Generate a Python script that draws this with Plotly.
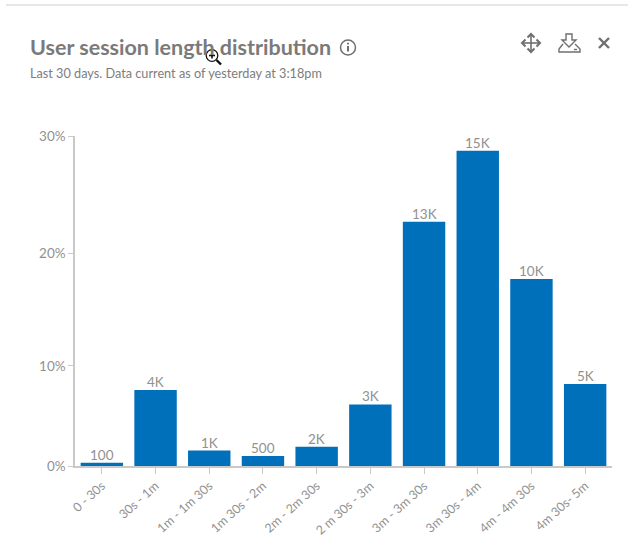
import plotly.graph_objects as go

# Session-length buckets and their share of sessions
buckets = ["0 - 30s", "30s - 1m", "1m - 1m 30s", "1m 30s - 2m", "2m - 2m 30s",
           "2 m 30s - 3m", "3m - 3m 30s", "3m 30s - 4m", "4m - 4m 30s", "4m 30s- 5m"]
share_pct = [0.3, 6.9, 1.4, 0.9, 1.75, 5.6, 22.2, 28.65, 17.0, 7.45]
count_labels = ["100", "4K", "1K", "500", "2K", "3K", "13K", "15K", "10K", "5K"]

# The percent ticks on this chart are unevenly spaced
y_tick_text = ["0%", "10%", "20%", "30%"]
y_tick_vals = [0, 9.1, 19.3, 30]

WIDTH, HEIGHT = 628, 537
LEFT, RIGHT, TOP, BOTTOM = 75, 16, 136, 71
WIDTH_PLOT = WIDTH - LEFT - RIGHT
HEIGHT_PLOT = HEIGHT - TOP - BOTTOM
GREY_TEXT = "#919191"
AXIS_GREY = "#c9c9c9"
ICON_GREY = "#6f6f6f"


def px(x):
    return (x - LEFT) / WIDTH_PLOT


def py(y):
    return (HEIGHT - BOTTOM - y) / HEIGHT_PLOT


def path(points, close=False):
    """SVG path in paper coordinates from page-pixel points."""
    d = "M" + " L".join(f"{px(x):.5f},{py(y):.5f}" for x, y in points)
    return d + (" Z" if close else "")


def line_shape(points, color=ICON_GREY, width=1.6, close=False, fill=None):
    return dict(type="path", xref="paper", yref="paper", path=path(points, close),
                line=dict(color=color, width=width),
                fillcolor=fill if fill else "rgba(0,0,0,0)", layer="above")


def circle_shape(cx, cy, r, color=ICON_GREY, width=1.6, fill=None):
    return dict(type="circle", xref="paper", yref="paper",
                x0=px(cx - r), x1=px(cx + r), y0=py(cy + r), y1=py(cy - r),
                line=dict(color=color, width=width),
                fillcolor=fill if fill else "rgba(0,0,0,0)", layer="above")


shapes = [
    # Rule across the top of the card
    line_shape([(6, 5), (628, 5)], color="#cfcfcf", width=1.2),
    # Info icon beside the title
    circle_shape(348, 47.5, 7.5, width=1.5),
    line_shape([(348, 46), (348, 51.5)], width=2),
    line_shape([(348, 42.8), (348, 44.4)], width=2),
    # Move icon
    line_shape([(522, 43), (540, 43)]),
    line_shape([(531, 34), (531, 52)]),
    line_shape([(525.5, 39.5), (522, 43), (525.5, 46.5)], width=2),
    line_shape([(536.5, 39.5), (540, 43), (536.5, 46.5)], width=2),
    line_shape([(527.5, 37.5), (531, 34), (534.5, 37.5)], width=2),
    line_shape([(527.5, 48.5), (531, 52), (534.5, 48.5)], width=2),
    # Download-to-tray icon
    line_shape([(566, 34), (572, 34), (572, 40), (576, 40), (569, 47), (562, 40), (566, 40)],
               close=True, width=1.4),
    line_shape([(563, 44), (559, 49), (559, 52), (580, 52), (580, 49), (575, 44)], width=1.4),
    line_shape([(574, 49.5), (577, 49.5)], width=1.4),
    # Close icon
    line_shape([(599, 38), (609, 48)], width=2.4),
    line_shape([(609, 38), (599, 48)], width=2.4),
    # Magnifier pointer sitting over the title
    circle_shape(212, 55.5, 5.8, color="#111111", width=1.3, fill="#ffffff"),
    line_shape([(209, 55.5), (215, 55.5)], color="#111111", width=1.6),
    line_shape([(212, 52.5), (212, 58.5)], color="#111111", width=1.6),
    line_shape([(216.5, 60), (221, 64.5)], color="#111111", width=2.4),
]

annotations = [
    dict(text="<b>User session length distribution</b>", x=px(29), y=py(47), xref="paper", yref="paper",
         xanchor="left", yanchor="middle", showarrow=False, xshift=-1,
         font=dict(family="Lato", size=21.5, color="#7a7a7a")),
    dict(text="Last 30 days. Data current as of yesterday at 3:18pm", x=px(29), y=py(73),
         xref="paper", yref="paper", xanchor="left", yanchor="middle", showarrow=False, xshift=-1,
         font=dict(family="Lato", size=12.7, color="#7d7d7d")),
]

# Count labels sit tight against the bar tops
for bucket, share, label in zip(buckets, share_pct, count_labels):
    annotations.append(dict(
        text=label, x=bucket, y=share, xref="x", yref="y",
        xanchor="center", yanchor="bottom", showarrow=False, yshift=-2,
        font=dict(family="Lato", size=13.5, color=GREY_TEXT),
    ))

fig = go.Figure(go.Bar(
    x=buckets,
    y=share_pct,
    marker=dict(color="#0070bb", line=dict(width=0)),
    hoverinfo="skip",
))

fig.update_layout(
    width=WIDTH, height=HEIGHT,
    margin=dict(l=LEFT, r=RIGHT, t=TOP, b=BOTTOM, pad=0, autoexpand=False),
    paper_bgcolor="white", plot_bgcolor="white",
    showlegend=False,
    bargap=0.21,
    font=dict(family="Lato", color=GREY_TEXT),
    shapes=shapes,
    annotations=annotations,
)
fig.update_xaxes(
    type="category", range=[-0.5, 9.5], tickangle=-42, automargin=False,
    showline=True, linecolor=AXIS_GREY, linewidth=1.5,
    ticks="outside", ticklen=6, tickcolor=AXIS_GREY, tickwidth=1,
    showgrid=False, zeroline=False,
    tickfont=dict(family="Lato", size=12.5, color=GREY_TEXT),
)
fig.update_yaxes(
    range=[0, 30], tickmode="array", tickvals=y_tick_vals, ticktext=y_tick_text,
    automargin=False,
    showline=True, linecolor=AXIS_GREY, linewidth=1.5,
    ticks="outside", ticklen=5, tickcolor=AXIS_GREY, tickwidth=1,
    showgrid=False, zeroline=False,
    tickfont=dict(family="Lato", size=13.5, color=GREY_TEXT),
)

fig.write_html("out.html", config=dict(displayModeBar=False))
